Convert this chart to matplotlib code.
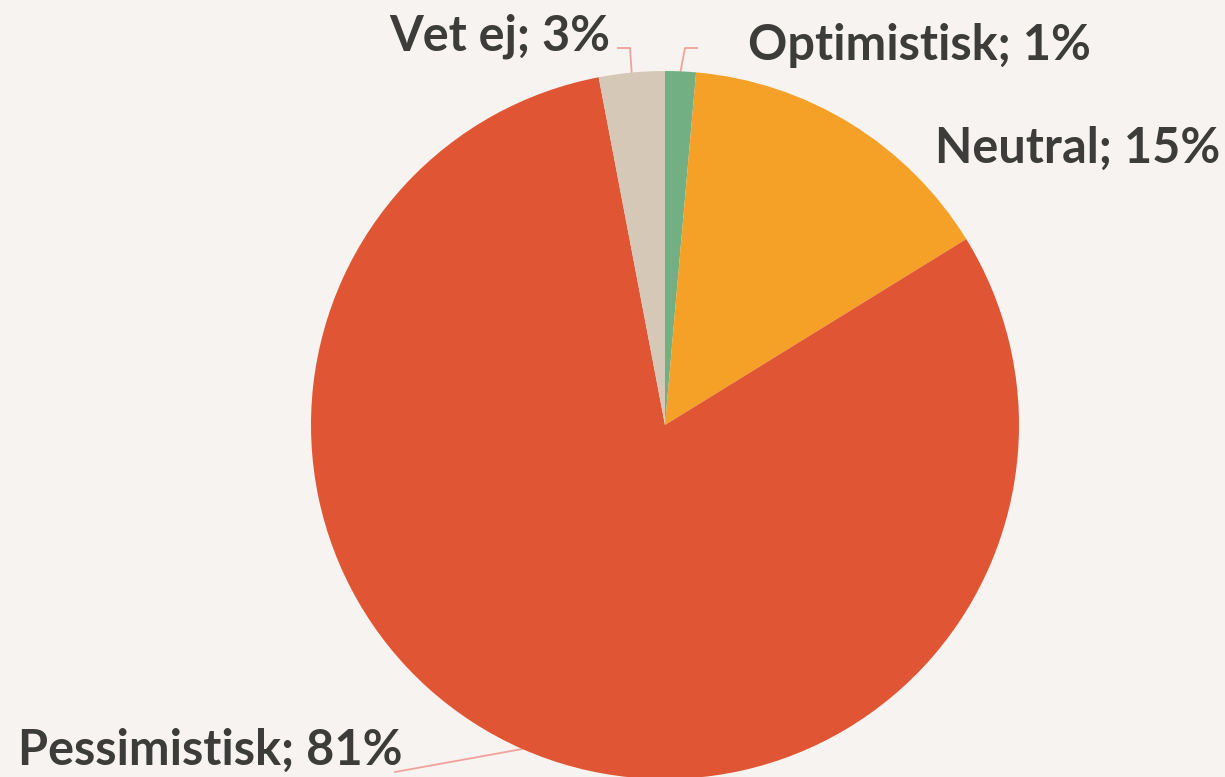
import numpy as np
import matplotlib
matplotlib.use("Agg")
import matplotlib.pyplot as plt

# Slices, clockwise from 12 o'clock
categories = ["Optimistisk", "Neutral", "Pessimistisk", "Vet ej"]
shares = [1.4, 14.8, 80.8, 3.0]
colors = ["#72B084", "#F5A027", "#E05533", "#D5C8B6"]

BG = "#F7F3F0"
TEXT = "#3C3C3A"
LEADER = "#F2A19B"

W, H = 1225, 777
cx, cy, r = 665, H - 425, 354

fig = plt.figure(figsize=(W / 100, H / 100), dpi=100, facecolor=BG)
ax = fig.add_axes([0, 0, 1, 1])
ax.set_facecolor(BG)

wedges, _ = ax.pie(shares, colors=colors, startangle=90, counterclock=False,
                   center=(cx, cy), radius=r, frame=True,
                   wedgeprops=dict(linewidth=0))
ax.set_xlim(0, W)
ax.set_ylim(0, H)
ax.set_aspect("equal")
ax.axis("off")

# label layout: (text x, text y, ha, elbow points)
layout = {
    "Optimistisk": (748, H - 45, "left", [(685, H - 48), (697, H - 48)]),
    "Neutral": (935, H - 148, "left", None),
    "Pessimistisk": (18, H - 750, "left", [(395, H - 772)]),
    "Vet ej": (610, H - 36, "right", [(630, H - 48), (618, H - 48)]),
}

total = sum(shares)
start = 0.0
for name, val in zip(categories, shares):
    mid = (start + val / 2) / total * 2 * np.pi
    start += val
    tx, ty, ha, elbow = layout[name]
    ax.text(tx, ty, f"{name}; {round(val)}%", ha=ha, va="center",
            fontsize=35, fontweight="bold", color=TEXT, family="Lato")
    if elbow:
        px, py = cx + r * np.sin(mid), cy + r * np.cos(mid)
        xs = [px] + [p[0] for p in elbow]
        ys = [py] + [p[1] for p in elbow]
        ax.plot(xs, ys, color=LEADER, lw=1.3, zorder=0.5)

fig.savefig("out.png", dpi=100, facecolor=BG)
